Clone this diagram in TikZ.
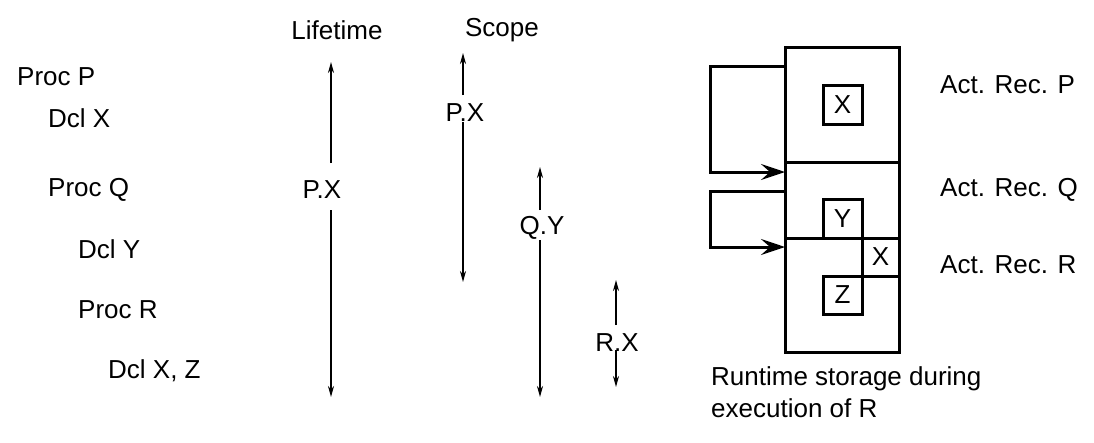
\documentclass[tikz,border=0pt]{standalone}
\usepackage{fontspec}
\setmainfont{Liberation Sans}
\usetikzlibrary{arrows.meta}
\begin{document}
\begin{tikzpicture}[x=1pt,y=-1pt,
  font=\fontsize{26}{32}\selectfont,
  lbl/.style={anchor=west,inner sep=0pt},
  ctr/.style={inner sep=0pt},
  varr/.style={line width=1.7pt,-{Stealth[length=11pt,width=6pt]}},
  link/.style={line width=3pt,-{Stealth[length=24pt,width=16pt,inset=9pt]}},
  frame/.style={draw,line width=3pt,inner sep=0pt},
  cell/.style={draw,line width=3pt,inner sep=0pt,minimum width=39pt,minimum height=39pt}]
\useasboundingbox (0,0) rectangle (1094,442);
% program text
\node[lbl] (procP) at (17,77) {Proc P};
\node[lbl] (dclX) at (48,118) {Dcl X};
\node[lbl] (procQ) at (48,190) {Proc Q};
\node[lbl] (dclY) at (78,249) {Dcl Y};
\node[lbl] (procR) at (78,310) {Proc R};
\node[lbl] (dclXZ) at (108,371) {Dcl X, Z};
% headers
\node[ctr] (life) at (337,30) {Lifetime};
\node[ctr] (scope) at (502,30) {Scope};
% lifetime P.X
\node[ctr] (lpx) at (322,190) {P.X};
\coordinate (lpxT) at (331,62); \coordinate (lpxA) at (331,163);
\coordinate (lpxB) at (331,210); \coordinate (lpxE) at (331,397);
\draw[varr] (lpxA) -- (lpxT);
\draw[varr] (lpxB) -- (lpxE);
% scope P.X
\node[ctr] (spx) at (465,113) {P.X};
\coordinate (spxT) at (463,53); \coordinate (spxA) at (463,95);
\coordinate (spxB) at (463,122); \coordinate (spxE) at (463,282);
\draw[varr] (spxA) -- (spxT);
\draw[varr] (spxB) -- (spxE);
% scope Q.Y
\node[ctr] (sqy) at (542,228) {Q.Y};
\coordinate (sqyT) at (540,167); \coordinate (sqyA) at (540,210);
\coordinate (sqyB) at (540,240); \coordinate (sqyE) at (540,397);
\draw[varr] (sqyA) -- (sqyT);
\draw[varr] (sqyB) -- (sqyE);
% scope R.X
\node[ctr] (srx) at (617,343) {R.X};
\coordinate (srxT) at (616,280); \coordinate (srxA) at (616,325);
\coordinate (srxB) at (616,350); \coordinate (srxE) at (616,387);
\draw[varr] (srxA) -- (srxT);
\draw[varr] (srxB) -- (srxE);
% activation records
\node[frame,minimum width=114pt,minimum height=115pt] (arP) at (842,104.5) {};
\node[frame,minimum width=114pt,minimum height=76pt] (arQ) at (842,200) {};
\node[frame,minimum width=114pt,minimum height=114pt] (arR) at (842,295) {};
\node[cell] (cX) at (842.5,104.5) {X};
\node[cell] (cY) at (842.5,218.5) {Y};
\node[cell,minimum width=37pt,minimum height=38pt] (cX2) at (880.5,257) {X};
\node[cell,minimum height=38pt] (cZ) at (842.5,295) {Z};
% links
\coordinate (l1a) at (785,66); \coordinate (l1b) at (785,172);
\coordinate (l2a) at (785,191); \coordinate (l2b) at (785,247);
\draw[link] (l1a) -- ++(-75,0) |- (l1b);
\draw[link] (l2a) -- ++(-75,0) |- (l2b);
% right labels
\node[lbl] (arPl) at (940,85) {Act. Rec. P};
\node[lbl] (arQl) at (940,190) {Act. Rec. Q};
\node[lbl] (arRl) at (940,265) {Act. Rec. R};
\node[anchor=north west,inner sep=0pt,align=left] (cap) at (711,366) {Runtime storage during\\execution of R};
\end{tikzpicture}
\end{document}
